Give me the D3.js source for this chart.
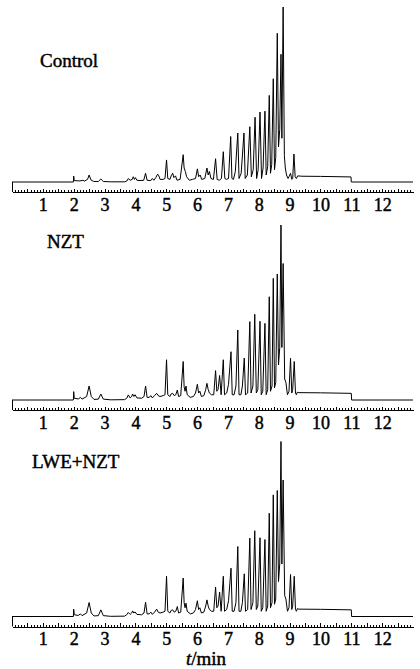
<!DOCTYPE html>
<html lang="en">
<head>
<meta charset="UTF-8">
<title>Chromatograms</title>
<script src="https://cdnjs.cloudflare.com/ajax/libs/d3/7.8.5/d3.min.js"></script>
<style>
    body { margin: 0; background: #fff; }
    .trace { fill: none; stroke: #000; stroke-width: 1; stroke-linejoin: round; }
    .axis path, .axis line { stroke: #000; shape-rendering: crispEdges; }
    .lbl { fill: #000; stroke: #000; stroke-width: 0.45; }
</style>
</head>
<body>
<div id="chart"></div>
<script>
// data: retention time (min), relative intensity (tallest peak = 100)
const sampleNames = ["Control", "NZT", "LWE+NZT"];
const tickValues = [1, 2, 3, 4, 5, 6, 7, 8, 9, 10, 11, 12];
const axisTitle = "min";

const controlTrace = [
    [0,0],[1.99,0],[2.0,3.4],[2.02,0.8],[2.2,0.6],[2.3,1],[2.35,0.5],[2.45,1.5],[2.5,4],[2.56,1.2],
    [2.65,0.3],[2.8,0.3],[2.88,1.7],[2.96,0.3],[3.2,0.1],[3.65,0.1],[3.72,0.5],[3.77,2],[3.83,1],[3.9,1.5],
    [3.93,3],[3.97,1.5],[4.0,2.5],[4.05,1],[4.15,0.8],[4.27,1],[4.33,5],[4.38,1],[4.5,0.8],[4.55,2],
    [4.6,1],[4.66,2.5],[4.72,4.5],[4.76,3.5],[4.8,1.5],[4.9,1.5],[4.96,2],[5.01,12.6],[5.05,2],[5.12,1.5],
    [5.16,3.5],[5.21,5],[5.25,2.5],[5.3,3.5],[5.35,1],[5.45,1.5],[5.55,15.6],[5.58,8],[5.62,6],[5.66,3],
    [5.75,1],[5.85,1.5],[5.95,2],[6.01,7.5],[6.05,3],[6.1,4],[6.15,1.5],[6.25,2],[6.32,8],[6.36,4],
    [6.4,6],[6.45,2],[6.53,1.5],[6.6,13.3],[6.65,1.5],[6.72,1],[6.79,2],[6.85,17.3],[6.9,2],[6.95,1.5],
    [7.02,2],[7.09,26],[7.13,2],[7.18,1.5],[7.24,6],[7.32,28],[7.36,2],[7.43,5],[7.52,28],[7.56,2],
    [7.63,4],[7.71,31.6],[7.76,3],[7.82,7],[7.88,37],[7.93,2],[7.98,7],[8.04,40],[8.09,2],[8.14,8],
    [8.2,40.5],[8.24,4],[8.29,9],[8.34,49.5],[8.38,5],[8.42,10],[8.47,59],[8.51,7],[8.55,14],[8.6,85],
    [8.64,20],[8.68,30],[8.72,73],[8.75,25],[8.79,100],[8.83,15],[8.86,8],[8.9,4],[8.95,2],[8.98,3],
    [9.03,5],[9.07,1.5],[9.1,2],[9.14,16],[9.18,3],[9.22,2],[9.26,3.5],[9.4,3.3],[10.0,3.2],[10.99,2.9],
    [11.0,0],[13,0]
];

const nztTrace = [
    [0,0],[1.99,0],[2.0,4.8],[2.02,1],[2.15,0.6],[2.22,1.5],[2.27,0.5],[2.42,2],[2.5,8],[2.57,2],
    [2.66,0.3],[2.8,0.5],[2.88,3.4],[2.96,0.5],[3.2,0.1],[3.65,0.2],[3.72,1],[3.77,2.9],[3.83,1.2],[3.88,2],
    [3.91,3.4],[3.95,2],[3.99,3],[4.05,1.2],[4.2,1],[4.28,2],[4.33,8],[4.38,1.5],[4.45,1.5],[4.5,2.5],
    [4.55,1.2],[4.62,2.5],[4.69,3.8],[4.74,2.5],[4.8,2],[4.9,2.5],[4.96,3],[5.01,23],[5.05,3],[5.12,2],
    [5.16,3.5],[5.21,3.8],[5.26,2.5],[5.31,3],[5.36,5.7],[5.4,2],[5.47,2.5],[5.55,22],[5.58,7.6],[5.61,5],
    [5.64,8],[5.68,3],[5.78,1.5],[5.88,2],[5.95,4],[6.01,9],[6.05,4],[6.09,5],[6.14,2],[6.22,2.5],
    [6.28,6],[6.32,9.5],[6.36,6],[6.4,4],[6.47,3],[6.54,3],[6.6,16.8],[6.64,5],[6.68,6],[6.73,14],
    [6.78,3],[6.85,23],[6.89,3],[6.96,4],[7.02,9],[7.1,27.6],[7.14,3],[7.2,3],[7.26,8],[7.32,40],
    [7.36,3],[7.42,3],[7.47,8],[7.53,24],[7.57,3],[7.64,4],[7.71,44.8],[7.75,4],[7.81,8],[7.87,49],
    [7.92,4],[7.97,6],[8.04,45],[8.08,3],[8.13,5],[8.2,43.8],[8.24,3],[8.29,6],[8.34,59],[8.38,5],
    [8.43,8],[8.47,69.5],[8.51,7],[8.55,10],[8.6,72],[8.64,20],[8.68,30],[8.72,100],[8.75,30],[8.79,78],
    [8.84,12],[8.88,10],[8.93,3],[8.98,5],[9.03,23.8],[9.07,4],[9.1,6],[9.15,22],[9.19,4],[9.22,3],
    [9.25,4.5],[9.3,4.2],[10.0,4.1],[11.0,3.8],[11.01,0],[13,0]
];

const lweNztTrace = [
    [0,0],[1.99,0],[2.0,4.2],[2.02,1],[2.15,0.6],[2.22,1.5],[2.27,0.5],[2.42,2],[2.5,8],[2.57,2],
    [2.66,0.3],[2.8,0.5],[2.88,3.8],[2.96,0.5],[3.2,0.1],[3.65,0.2],[3.72,1],[3.77,2.3],[3.83,1.2],[3.88,2],
    [3.91,3.2],[3.95,2],[3.99,2.6],[4.05,1.2],[4.2,1],[4.28,2],[4.33,8.2],[4.38,1.5],[4.45,1.5],[4.5,2.5],
    [4.55,1.2],[4.62,2.5],[4.69,4.2],[4.74,2.5],[4.8,2],[4.9,2.5],[4.96,3],[5.01,23],[5.05,3],[5.12,2],
    [5.16,3.5],[5.21,3.8],[5.26,2.5],[5.31,3],[5.36,5.7],[5.4,2],[5.47,2.5],[5.55,22],[5.58,8],[5.61,5],
    [5.64,7.6],[5.68,3],[5.78,1.5],[5.88,2],[5.95,4],[6.01,9],[6.05,4],[6.09,5],[6.14,2],[6.22,2.5],
    [6.28,6],[6.32,9.5],[6.36,6],[6.4,4],[6.47,3],[6.54,3],[6.6,16.8],[6.64,5],[6.68,6],[6.73,14],
    [6.78,3],[6.85,23],[6.89,3],[6.96,4],[7.02,9],[7.1,27.6],[7.14,3],[7.2,3],[7.26,8],[7.32,40],
    [7.36,3],[7.42,3],[7.47,8],[7.53,24.4],[7.57,3],[7.64,4],[7.71,44.8],[7.75,4],[7.81,8],[7.87,49],
    [7.92,4],[7.97,6],[8.04,45],[8.08,3],[8.13,5],[8.2,44],[8.24,3],[8.29,6],[8.34,59],[8.38,5],
    [8.43,8],[8.47,69.5],[8.51,7],[8.55,10],[8.6,72],[8.64,20],[8.68,30],[8.72,100],[8.75,30],[8.79,78],
    [8.84,12],[8.88,10],[8.93,3],[8.98,5],[9.03,24],[9.07,4],[9.1,6],[9.15,23],[9.19,4],[9.22,3],
    [9.25,4.5],[9.3,4.2],[10.0,4.1],[11.0,3.8],[11.01,0],[13,0]
];

const traces = [controlTrace, nztTrace, lweNztTrace];

// layout
const width = 420, height = 669;
const x0 = 12, x1 = 413;
const peakHeight = 175;
const panelBase = [182, 400, 616.5];
const labelPos = [[40, 67], [47, 248], [32, 468]];
const serif = "'Times New Roman', 'Liberation Serif', 'DejaVu Serif', serif";

const svg = d3.select("#chart").append("svg")
    .attr("width", width).attr("height", height);

const x = d3.scaleLinear().domain([0, 13]).range([x0, x1]);
const minorTicks = d3.range(1, 130).map(d => d / 10);

traces.forEach((trace, i) => {
    const base = panelBase[i];
    const y = d3.scaleLinear().domain([0, 100]).range([base, base - peakHeight]);
    const g = svg.append("g");

    g.append("path")
        .datum(trace)
        .attr("class", "trace")
        .attr("d", d3.line().x(d => x(d[0])).y(d => y(d[1])));

    // left edge of the frame
    g.append("line")
        .attr("x1", x0 + 0.5).attr("x2", x0 + 0.5)
        .attr("y1", base).attr("y2", base + 10)
        .attr("stroke", "#000");

    const axisY = base + 10;
    g.append("g").attr("class", "axis")
        .attr("transform", `translate(0,${axisY})`)
        .call(d3.axisTop(x).tickValues(minorTicks.filter(d => Math.round(d * 10) % 5 !== 0))
            .tickSize(2).tickSizeOuter(0).tickFormat(""));
    g.append("g").attr("class", "axis")
        .attr("transform", `translate(0,${axisY})`)
        .call(d3.axisTop(x).tickValues(minorTicks.filter(d => Math.round(d * 10) % 5 === 0))
            .tickSize(3.5).tickSizeOuter(0).tickFormat(""))
        .call(a => a.select(".domain").remove());

    g.append("g")
        .attr("transform", `translate(0,${axisY})`)
        .call(d3.axisBottom(x).tickValues(tickValues).tickSize(0).tickPadding(6))
        .call(a => a.select(".domain").remove())
        .attr("font-family", serif)
        .attr("font-size", 18)
        .selectAll("text")
        .attr("class", "lbl");

    svg.append("text")
        .attr("class", "lbl")
        .attr("x", labelPos[i][0]).attr("y", labelPos[i][1])
        .attr("font-family", serif)
        .attr("font-size", 19)
        .text(sampleNames[i]);
});

const title = svg.append("text")
    .attr("class", "lbl")
    .attr("x", 206).attr("y", 665)
    .attr("text-anchor", "middle")
    .attr("font-family", serif)
    .attr("font-size", 19);
title.append("tspan").attr("font-style", "italic").text("t");
title.append("tspan").text("/" + axisTitle);
</script>
</body>
</html>
